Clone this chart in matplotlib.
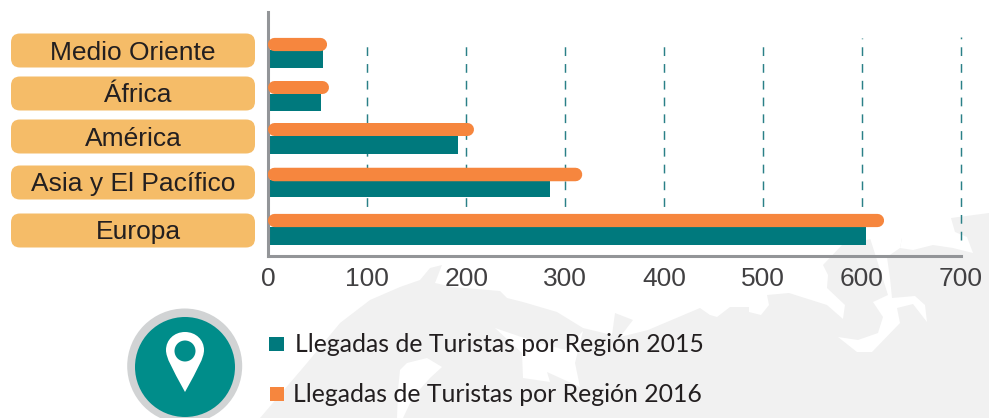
import matplotlib
matplotlib.use('Agg')
import matplotlib.pyplot as plt
from matplotlib.patches import Circle, FancyBboxPatch, Polygon, Rectangle, PathPatch
from matplotlib.path import Path

regions = ['Medio Oriente', 'África', 'América', 'Asia y El Pacífico', 'Europa']
llegadas_2015 = [55, 53, 191.5, 285, 604]
llegadas_2016 = [59, 61, 207, 316, 622]
x_ticks = [0, 100, 200, 300, 400, 500, 600, 700]
legend_2015 = 'Llegadas de Turistas por Región 2015'
legend_2016 = 'Llegadas de Turistas por Región 2016'

TEAL = '#00797d'
ORANGE = '#f6863e'
LABEL_BG = '#f5bc68'
GRIS = '#f1f1f1'

# pixel rows of each region: top of orange, split, bottom of teal
row_top = [37.3, 80.7, 123, 167, 213.3]
row_mid = [50.5, 93.7, 136, 180.5, 226.5]
row_bot = [68, 111, 154, 197, 245]
label_mid = [50.5, 93.5, 136.5, 182.5, 230.5]
label_x = [133, 138, 133, 133, 138.5]
dash_top = [43, 42, 41, 40, 39, 38, 37]

W, H = 989, 418
fig = plt.figure(figsize=(W / 100, H / 100), dpi=100, facecolor='white')

# whole figure overlay in pixel coords for the decoration
bg = fig.add_axes([0, 0, 1, 1])
bg.set_xlim(0, W)
bg.set_ylim(H, 0)
bg.axis('off')

mapa = [(260, 418), (307, 363), (340, 323), (370, 300), (400, 287), (420, 280), (430, 268), (442, 265),
        (435, 283), (453, 287), (500, 291), (507, 298), (523, 302), (557, 312), (583, 328), (612, 335),
        (615, 313), (633, 320), (620, 337), (648, 330), (700, 308), (710, 315), (717, 317), (730, 307),
        (749, 307), (749, 312), (761, 315), (769, 305), (767, 295), (789, 293), (827, 305), (843, 319),
        (845, 305), (827, 288), (828, 275), (823, 265), (842, 245), (876, 238), (902, 238), (900, 248),
        (913, 250), (933, 245), (953, 248), (973, 253), (967, 237), (955, 232), (951, 218), (989, 213),
        (989, 418)]
bg.add_patch(Polygon(mapa, closed=True, fc=GRIS, ec='none', zorder=1))

blanco = [
    [(400, 370), (407, 363), (427, 358), (442, 367), (430, 378), (413, 397), (403, 418), (397, 418), (398, 390)],
    [(495, 328), (530, 340), (565, 350), (583, 331), (575, 363), (580, 387), (547, 372), (550, 382), (523, 378),
     (522, 353)],
    [(870, 238), (888, 295), (873, 302), (883, 317), (878, 333), (858, 340), (838, 337), (857, 352), (872, 352),
     (900, 323), (897, 308), (913, 304), (927, 322), (925, 305), (915, 296), (892, 298), (890, 278), (887, 257),
     (900, 248), (902, 238)],
]
for b in blanco:
    bg.add_patch(Polygon(b, closed=True, fc='white', ec='none', zorder=2))

# pin badge
bg.add_patch(Circle((184.7, 366), 57.5, fc='#d1d3d4', ec='none', zorder=3))
bg.add_patch(Circle((185, 367), 50, fc='#008d8a', ec='none', zorder=4))
pin = Path([(185, 392), (172, 368), (166, 358), (166, 350), (166, 340), (174, 332), (185, 332),
            (196, 332), (204, 340), (204, 350), (204, 358), (198, 368), (185, 392)],
           [Path.MOVETO, Path.CURVE4, Path.CURVE4, Path.CURVE4, Path.CURVE4, Path.CURVE4, Path.CURVE4,
            Path.CURVE4, Path.CURVE4, Path.CURVE4, Path.CURVE4, Path.CURVE4, Path.CURVE4])
bg.add_patch(PathPatch(pin, fc='white', ec='none', zorder=5))
bg.add_patch(Circle((185, 351), 10.5, fc='#008d8a', ec='none', zorder=6))

# region labels
for name, ym, xm in zip(regions, label_mid, label_x):
    bg.add_patch(FancyBboxPatch((11, ym - 17), 244, 34, boxstyle='round,pad=0,rounding_size=9', fc=LABEL_BG,
                                ec='none', zorder=3))
    bg.text(xm, ym + 2, name, ha='center', va='center', fontsize=19, family='Liberation Sans',
            color='#231f20', zorder=4)

# legend
bg.add_patch(Rectangle((269, 337), 15, 14, fc=TEAL, ec='none', zorder=3))
bg.add_patch(Rectangle((270, 387), 14, 14, fc=ORANGE, ec='none', zorder=3))
bg.text(295, 344, legend_2015, va='center', ha='left', fontsize=17.8, family='Lato', color='#231f20', zorder=4)
bg.text(293, 395, legend_2016, va='center', ha='left', fontsize=17.8, family='Lato', color='#231f20', zorder=4)

# chart, y axis in pixel rows
ax = fig.add_axes([268.3 / W, 1 - 256 / H, (961 - 268.3) / W, (256 - 12) / H])
ax.patch.set_alpha(0)
ax.set_xlim(0, 700)
ax.set_ylim(256, 12)
ax.set_yticks([])
ax.set_xticks(x_ticks)
ax.tick_params(axis='x', length=0, pad=8, labelsize=19, labelcolor='#414042')
for t in ax.get_xticklabels():
    t.set_family('Liberation Sans')
for s in ['top', 'right']:
    ax.spines[s].set_visible(False)
for s in ['left', 'bottom']:
    ax.spines[s].set_color('#939598')
    ax.spines[s].set_linewidth(2.2)

for x, top in zip(x_ticks[1:], dash_top):
    ax.plot([x, x], [240, top], color='#2a8087', lw=1.05, dashes=(6, 5.5), zorder=1, clip_on=False)

for i in range(len(regions)):
    ax.barh(row_mid[i], llegadas_2015[i], height=row_bot[i] - row_mid[i], align='edge', color=TEAL, zorder=2)
    h = row_mid[i] - row_top[i]
    ax.plot([6, llegadas_2016[i] - 6.5], [row_top[i] + h / 2] * 2, color=ORANGE, lw=h * 0.72,
            solid_capstyle='round', zorder=3)

fig.savefig('out.png', dpi=100)
